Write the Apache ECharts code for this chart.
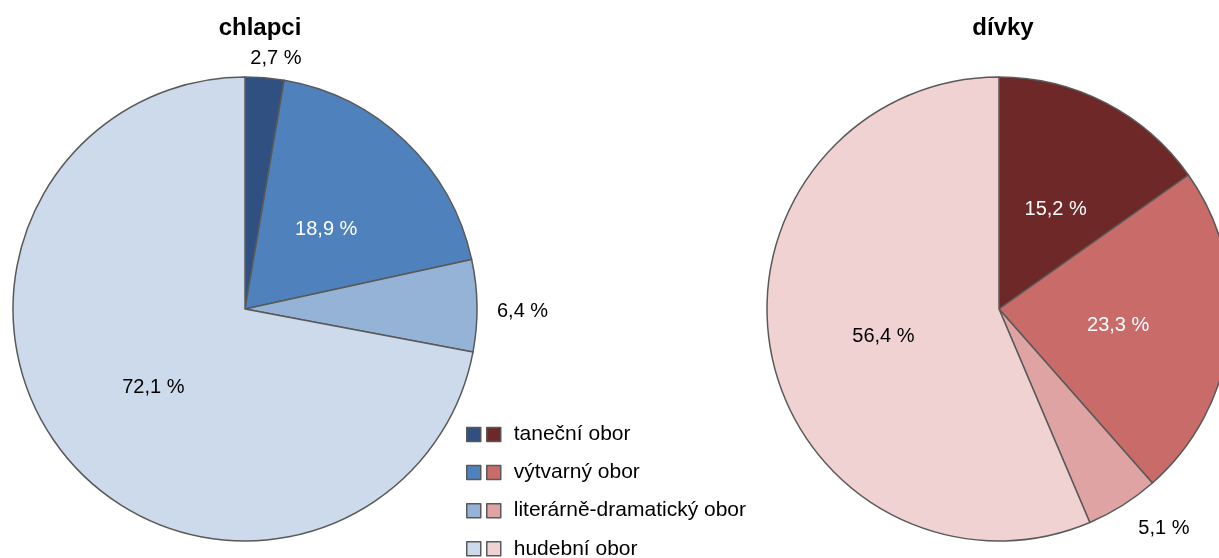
<!DOCTYPE html>
<html><head><meta charset="utf-8">
<script src="https://cdn.jsdelivr.net/npm/echarts@6/dist/echarts.min.js"></script>
<style>html,body{margin:0;padding:0;background:#fff}#c{width:1219px;height:558px}</style>
</head><body><div id="c"></div>
<script>
const categories = ['taneční obor', 'výtvarný obor', 'literárně-dramatický obor', 'hudební obor'];
const boysValues = [2.7, 18.9, 6.4, 72.1];
const girlsValues = [15.2, 23.3, 5.1, 56.4];
const boysColors = ['#2F5081', '#4F81BD', '#95B3D7', '#CCDAEC'];
const girlsColors = ['#6E2828', '#C96B68', '#E0A3A3', '#F0D2D3'];
const boysLabelPos = ['outside', 'inside', 'outside', 'inside'];
const girlsLabelPos = ['inside', 'inside', 'outside', 'inside'];
const boysLabelColor = ['#000', '#fff', '#000', '#000'];
const girlsLabelColor = ['#fff', '#fff', '#000', '#000'];

const FONT = '"Liberation Sans", Arial, sans-serif';
function fmt(v){ return v.toFixed(1).replace('.', ',') + ' %'; }
function buildData(vals, colors, pos, lc, offsets){
  return categories.map((n,i)=>({
    name: n, value: vals[i],
    itemStyle: {color: colors[i]},
    label: {position: pos[i], color: lc[i], offset: offsets[i]}
  }));
}
function pieSeries(center, data){
  return {
    type: 'pie', radius: 232, center: center, startAngle: 90, clockwise: true,
    animation: false, avoidLabelOverlap: false, silent: true,
    itemStyle: {borderColor: '#595959', borderWidth: 1.5},
    label: {show: true, formatter: p => fmt(p.value), fontFamily: FONT, fontSize: 20, distanceToLabelLine: 0},
    labelLine: {show: false, length: 20, length2: 0},
    emphasis: {disabled: true},
    data: data
  };
}
const chart = echarts.init(document.getElementById('c'));
const legendBase = {
  orient: 'vertical', top: 424, height: 200, padding: 0, itemWidth: 14, itemHeight: 14, itemGap: 17.1,
  selectedMode: false, icon: 'rect',
  textStyle: {fontFamily: FONT, fontSize: 21, lineHeight: 20, color: '#000', padding: [0, 0, 0, 8]}
};
chart.setOption({
  animation: false,
  title: [
    {text: 'chlapci', left: 255, top: 11, textAlign: 'center', textStyle: {fontFamily: FONT, fontSize: 24, fontWeight: 'bold', color: '#000'}},
    {text: 'dívky', left: 998, top: 11, textAlign: 'center', textStyle: {fontFamily: FONT, fontSize: 24, fontWeight: 'bold', color: '#000'}}
  ],
  legend: [
    Object.assign({}, legendBase, {left: 466, formatter: () => ' ',
      data: categories.map((n,i)=>({name: n, itemStyle: {color: boysColors[i], borderColor: '#595959', borderWidth: 1.5}}))}),
    Object.assign({}, legendBase, {left: 486,
      data: categories.map((n,i)=>({name: n, itemStyle: {color: girlsColors[i], borderColor: '#595959', borderWidth: 1.5}}))})
  ],
  series: [
    pieSeries([245, 309], buildData(boysValues, boysColors, boysLabelPos, boysLabelColor, [[-16,1],[-1,7],[0,6],[0,3]])),
    pieSeries([999, 309], buildData(girlsValues, girlsColors, girlsLabelPos, girlsLabelColor, [[2,6],[1,3],[5,6],[1,4]]))
  ]
});
</script></body></html>
